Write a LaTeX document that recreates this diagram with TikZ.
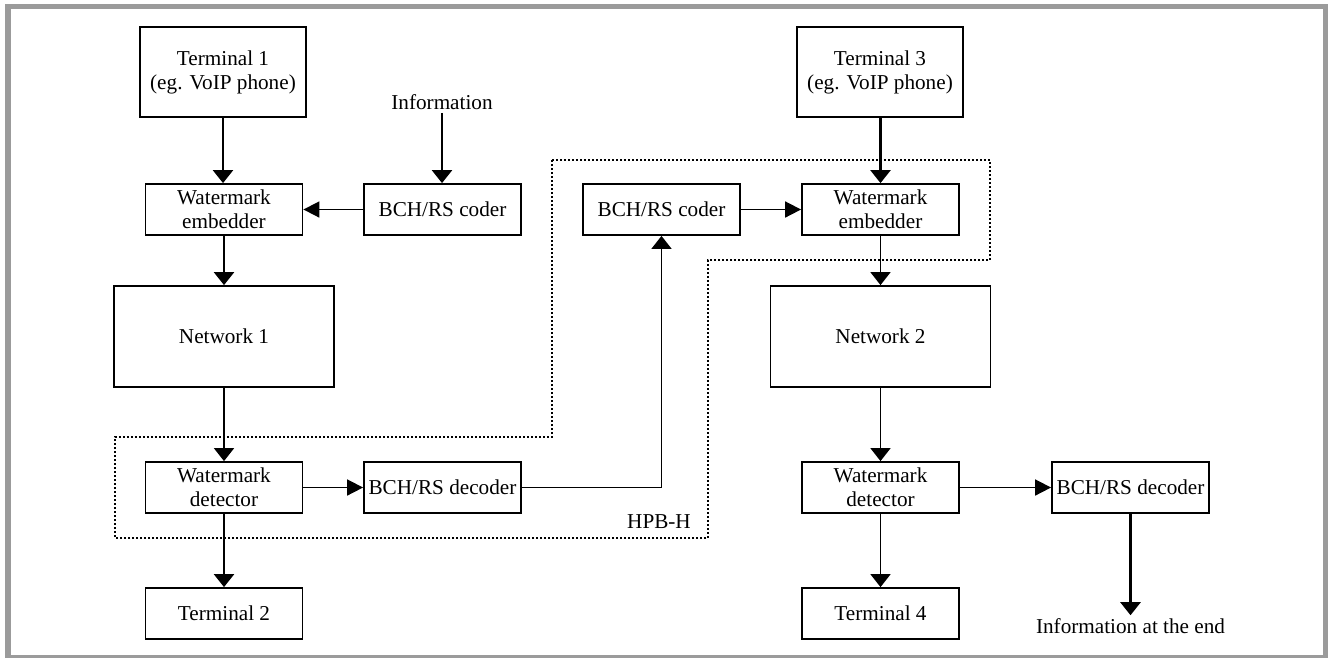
\documentclass[tikz,border=0pt]{standalone}
\usepackage{fontspec}
\setmainfont{Liberation Serif}
\usetikzlibrary{arrows.meta}
\definecolor{framegrey}{HTML}{9B9B9B}
\begin{document}
\begin{tikzpicture}[x=1pt,y=-1pt,
  txt/.style={font=\fontsize{21.2}{24}\selectfont, align=center},
  box/.style={txt, draw, line width=1.8pt, inner sep=0pt, fill=white},
  small/.style={box, minimum width=157pt, minimum height=51pt},
  big/.style={box, minimum width=220pt, minimum height=101pt},
  term/.style={box, minimum width=166pt, minimum height=90pt},
  vflow/.style={line width=2.4pt, -{Triangle[length=13pt,width=20pt]}},
  vthin/.style={line width=1.7pt, -{Triangle[length=13pt,width=20pt]}},
  hthin/.style={line width=1.7pt, -{Triangle[length=16pt,width=16pt]}},
  region/.style={line width=1.6pt, dash pattern=on 2pt off 2pt}]
\useasboundingbox (0,0) rectangle (1329,657);
\fill[white] (0,0) rectangle (1329,657);
\draw[framegrey, line width=5.5pt] (8,6.5) rectangle (1325.5,657.8);

% dotted boundary of the HPB-H block
\draw[region] (552,160) -- (990,160) -- (990,260) -- (708,260) -- (708,538)
  -- (115,538) -- (115,437) -- (552,437) -- cycle;
\node[txt] (hpb) at (659,522) {HPB-H};

% left chain
\node[term] (t1) at (223,72) {Terminal 1\\(eg. VoIP phone)};
\node[txt, inner sep=3pt] (info) at (442,102) {Information};
\node[small] (emb1) at (224,209.5) {Watermark\\embedder};
\node[small] (cod1) at (442.5,209.5) {BCH/RS coder};
\node[big] (net1) at (224,336.5) {Network 1};
\node[small] (det1) at (224,487.5) {Watermark\\detector};
\node[small] (dec1) at (442.5,487.5) {BCH/RS decoder};
\node[small] (t2) at (224,613.5) {Terminal 2};

% right chain
\node[term] (t3) at (880,72) {Terminal 3\\(eg. VoIP phone)};
\node[small] (cod2) at (661.5,209.5) {BCH/RS coder};
\node[small] (emb2) at (880.5,209.5) {Watermark\\embedder};
\node[big] (net2) at (880.5,336.5) {Network 2};
\node[small] (det2) at (880.5,487.5) {Watermark\\detector};
\node[small] (dec2) at (1130.5,487.5) {BCH/RS decoder};
\node[small] (t4) at (880.5,613.5) {Terminal 4};
\node[txt, inner sep=3pt] (infoend) at (1130.5,626) {Information at the end};

% connectors
\draw[vflow] (t1.south) -- (t1.south |- emb1.north);
\draw[vflow] (info.south) -- (info.south |- cod1.north);
\draw[hthin] (cod1.west) -- (emb1.east);
\draw[vflow] (emb1.south) -- (net1.north);
\draw[vthin] (net1.south) -- (det1.north);
\draw[hthin] (det1.east) -- (dec1.west);
\draw[vflow] (det1.south) -- (t2.north);
\draw[vthin] (dec1.east) -| (cod2.south);
\draw[hthin] (cod2.east) -- (emb2.west);
\draw[vflow] (emb2.north |- t3.south) -- (emb2.north);
\draw[vthin] (emb2.south) -- (net2.north);
\draw[vthin] (net2.south) -- (det2.north);
\draw[hthin] (det2.east) -- (dec2.west);
\draw[vthin] (det2.south) -- (t4.north);
\draw[vflow] (dec2.south) -- (dec2.south |- infoend.north);
\end{tikzpicture}
\end{document}
